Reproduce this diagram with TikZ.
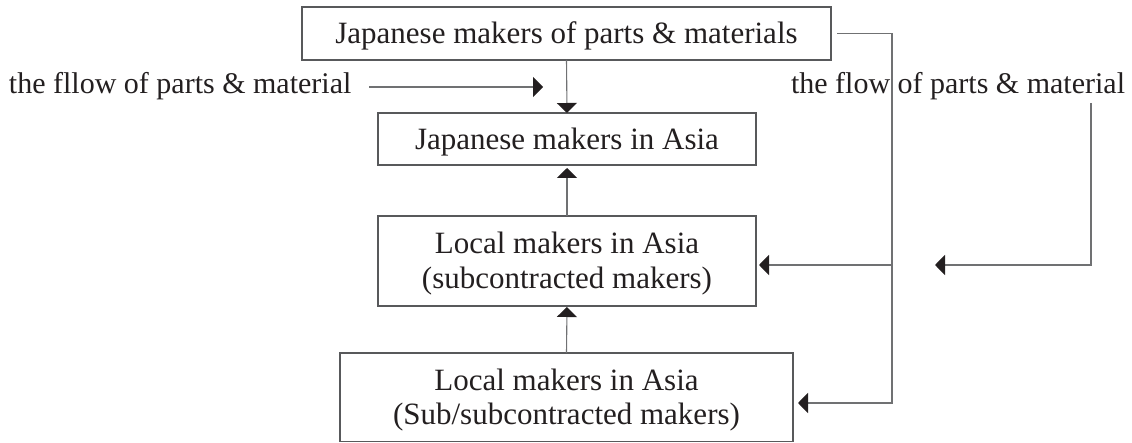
\documentclass[tikz,border=0pt]{standalone}
\usepackage{fontspec}
\setmainfont{Liberation Serif}
\usetikzlibrary{arrows.meta}
\definecolor{ink}{HTML}{231F20}
\definecolor{boxc}{HTML}{58595B}
\definecolor{rulec}{HTML}{707173}
\newcommand\tallstrut{\rule{0pt}{27pt}}
\begin{document}
\begin{tikzpicture}[x=1pt,y=-1pt,
  font=\fontsize{30}{34}\selectfont,
  box/.style={draw=boxc, line width=1.3pt, text=ink, inner sep=0pt, outer sep=0pt, align=center,
    font=\fontsize{31}{34.5}\selectfont},
  lab/.style={text=ink, inner sep=0pt, outer sep=0pt},
  conn/.style={draw=rulec, line width=1.1pt},
  arr/.style={conn, -{Triangle[length=10pt,width=20pt,color=ink]}}
]
\useasboundingbox (0,0) rectangle (1132,443);

% boxes
\node[box, minimum width=529pt, minimum height=53pt] (top) at (566.5,33.5) {\tallstrut Japanese makers of parts \& materials};
\node[box, minimum width=378pt, minimum height=52pt] (jasia) at (567,139) {\tallstrut Japanese makers in Asia};
\node[box, minimum width=378pt, minimum height=90pt] (local) at (567,261) {\tallstrut Local makers in Asia\\(subcontracted makers)};
\node[box, minimum width=453pt, minimum height=88.5pt] (sub) at (566.5,397.25) {\tallstrut Local makers in Asia\\(Sub/subcontracted makers)};

% legend labels
\node[lab, anchor=base west] (leftlab) at (9,94) {the fllow of parts \& material};
\node[lab, anchor=base west] (rightlab) at (791,94) {the flow of parts \& material};

% coordinates
\coordinate (la) at (543,87);
\coordinate (j1) at (892,33.5);
\coordinate (j2) at (892,265);
\coordinate (j3) at (892,403);
\coordinate (r1) at (1091,103);
\coordinate (r2) at (1091,265);
\coordinate (r3) at (935,265);

% vertical flow
\draw[arr] (top.south) -- (jasia.north);
\draw[arr, shorten >=3pt] (local.north) -- (jasia.south);
\draw[arr, shorten >=1pt] (sub.north) -- (local.south);

% right feed lines
\draw[arr, shorten <=6pt, shorten >=5pt] (top.east) -- (j1) -- (j3) -- (j3 -| sub.east);
\draw[arr, shorten >=3pt] (j2) -- (j2 -| local.east);

% legend arrows
\draw[arr, shorten <=18pt] (leftlab.east |- la) -- (la);
\draw[arr] (r1) -- (r2) -- (r3);
\end{tikzpicture}
\end{document}
